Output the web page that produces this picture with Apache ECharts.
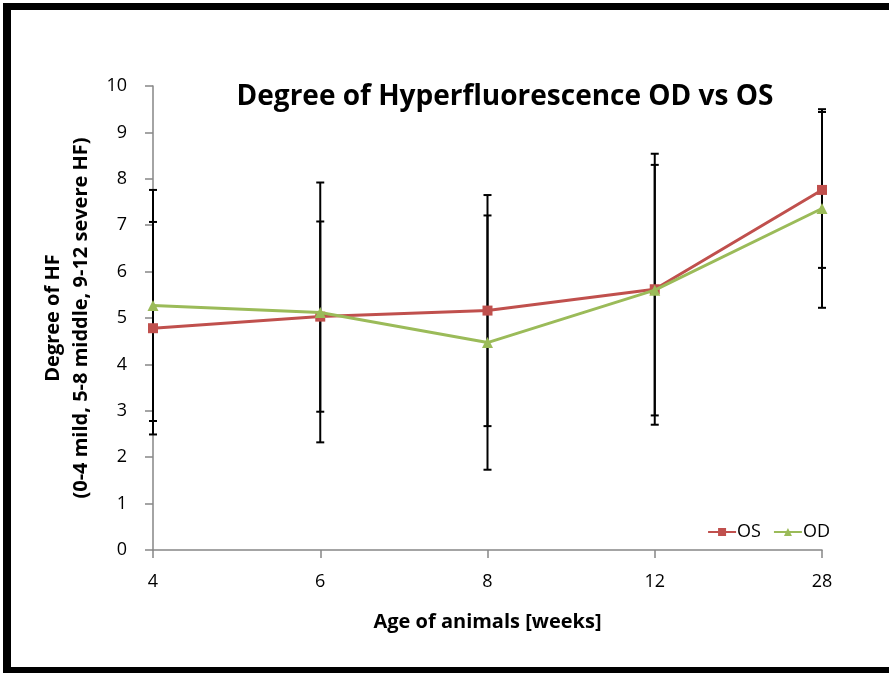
<!DOCTYPE html>
<html>
<head>
<meta charset="utf-8">
<script src="https://cdn.jsdelivr.net/npm/echarts@6/dist/echarts.min.js"></script>
<style>
  html, body { margin: 0; padding: 0; background: #fff; }
  #chart { width: 889px; height: 673px; }
</style>
</head>
<body>
<div id="chart"></div>
<script>
// ========== data ==========
const weeks = ['4', '6', '8', '12', '28'];
const osMean = [4.78, 5.03, 5.16, 5.62, 7.76];
const osErr  = [2.29, 2.05, 2.49, 2.92, 1.68];
const odMean = [5.27, 5.12, 4.47, 5.60, 7.36];
const odErr  = [2.49, 2.80, 2.74, 2.70, 2.14];

const FONT = '"Open Sans", Lato, sans-serif';
const RED = '#C0504D', GREEN = '#9BBB59';

// error bar rows: [category index, low, high]
const errRows = [];
weeks.forEach((w, i) => {
    errRows.push([i, osMean[i] - osErr[i], osMean[i] + osErr[i]]);
    errRows.push([i, odMean[i] - odErr[i], odMean[i] + odErr[i]]);
});

function renderErr(params, api) {
    const x = api.value(0);
    const lo = api.coord([x, api.value(1)]);
    const hi = api.coord([x, api.value(2)]);
    const hw = 4;
    const st = { stroke: '#000', lineWidth: 2 };
    return {
        type: 'group',
        children: [
            { type: 'line', shape: { x1: hi[0], y1: hi[1], x2: lo[0], y2: lo[1] }, style: st },
            { type: 'line', shape: { x1: hi[0] - hw, y1: hi[1], x2: hi[0] + hw, y2: hi[1] }, style: st },
            { type: 'line', shape: { x1: lo[0] - hw, y1: lo[1], x2: lo[0] + hw, y2: lo[1] }, style: st }
        ]
    };
}

const chart = echarts.init(document.getElementById('chart'));
chart.setOption({
    animation: false,
    backgroundColor: '#fff',
    textStyle: { fontFamily: FONT },
    title: {
        text: 'Degree of Hyperfluorescence OD vs OS',
        left: 500, top: 78, textAlign: 'center',
        textStyle: { fontFamily: FONT, fontSize: 28, fontWeight: 'bold', color: '#000' }
    },
    legend: {
        right: 54, top: 518,
        itemWidth: 28, itemHeight: 10, itemGap: 12,
        textStyle: { fontFamily: FONT, fontSize: 18, color: '#000', padding: [0, 0, 0, -4] },
        data: ['OS', 'OD']
    },
    grid: { left: 153, right: 67, top: 86, bottom: 123 },
    xAxis: {
        type: 'category', data: weeks, boundaryGap: false,
        name: 'Age of animals [weeks]', nameLocation: 'middle', nameGap: 62,
        nameTextStyle: { fontFamily: FONT, fontSize: 20, fontWeight: 'bold', color: '#000' },
        axisLine: { lineStyle: { color: '#868686', width: 1.5 } },
        axisTick: { show: true, length: 8, lineStyle: { color: '#868686', width: 1.5 } },
        axisLabel: { fontFamily: FONT, fontSize: 18, color: '#000', margin: 23 },
        splitLine: { show: false }
    },
    yAxis: {
        type: 'value', min: 0, max: 10, interval: 1,
        name: 'Degree of HF\n(0-4 mild, 5-8 middle, 9-12 severe HF)',
        nameLocation: 'middle', nameGap: 49, nameRotate: 90,
        nameTextStyle: { fontFamily: FONT, fontSize: 20, fontWeight: 'bold', color: '#000', lineHeight: 28 },
        axisLine: { show: true, lineStyle: { color: '#868686', width: 1.5 } },
        axisTick: { show: true, length: 8, lineStyle: { color: '#868686', width: 1.5 } },
        axisLabel: { fontFamily: FONT, fontSize: 18, color: '#000', margin: 26 },
        splitLine: { show: false }
    },
    series: [
        {
            name: 'errors', type: 'custom', renderItem: renderErr,
            data: errRows, encode: { x: 0, y: [1, 2] }, z: 1, silent: true
        },
        {
            name: 'OS', type: 'line', data: osMean, z: 3,
            symbol: 'rect', symbolSize: 10,
            lineStyle: { color: RED, width: 3 },
            itemStyle: { color: RED }
        },
        {
            name: 'OD', type: 'line', data: odMean, z: 4,
            symbol: 'triangle', symbolSize: 11,
            lineStyle: { color: GREEN, width: 3 },
            itemStyle: { color: GREEN }
        }
    ],
    graphic: [
        // frame of the picture: top, left, bottom
        { type: 'rect', shape: { x: 3, y: 3, width: 886, height: 7 }, style: { fill: '#000' } },
        { type: 'rect', shape: { x: 3, y: 3, width: 8, height: 670 }, style: { fill: '#000' } },
        { type: 'rect', shape: { x: 3, y: 667, width: 886, height: 6 }, style: { fill: '#000' } }
    ]
});
</script>
</body>
</html>
